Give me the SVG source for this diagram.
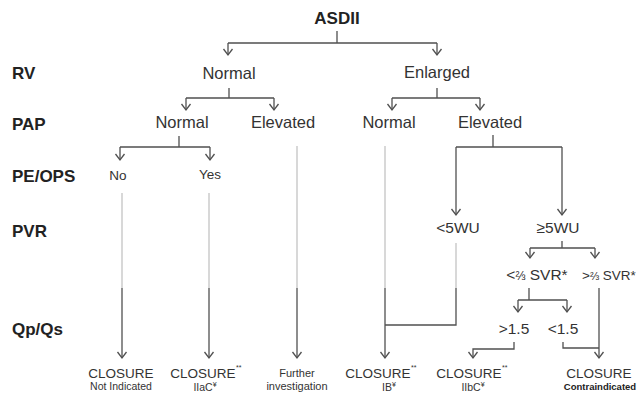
<svg xmlns="http://www.w3.org/2000/svg" width="639" height="395" viewBox="0 0 639 395">
  <style>
    text { font-family: "Liberation Sans", Arial, sans-serif; fill: #333333; }
    .hdr { font-size: 17px; font-weight: bold; fill: #222222; }
    .lvl { font-size: 16.5px; text-anchor: middle; }
    .mid { font-size: 15.5px; text-anchor: middle; }
    .yn { font-size: 13.5px; text-anchor: middle; }
    .out { font-size: 13.5px; text-anchor: middle; }
    .sub { font-size: 10.5px; text-anchor: middle; }
    .sup { font-size: 7px; }
    .frac { font-size: 12px; }
    .ln { fill: none; stroke: #505050; stroke-width: 1.3; }
    .lt { fill: none; stroke: #c4c4c4; stroke-width: 1.3; }
    .arr { marker-end: url(#chev); }
  </style>
  <defs>
    <marker id="chev" markerUnits="userSpaceOnUse" viewBox="-8 -6 10 12" markerWidth="10" markerHeight="12" refX="0" refY="0" orient="auto">
      <path d="M-6,-4.5 L0,0 L-6,4.5" fill="none" stroke="#505050" stroke-width="1.3"/>
    </marker>
  </defs>

  <!-- row headings -->
  <g id="row-labels">
    <text class="hdr" x="12" y="79">RV</text>
    <text class="hdr" x="12" y="130">PAP</text>
    <text class="hdr" x="12" y="182">PE/OPS</text>
    <text class="hdr" x="12" y="237">PVR</text>
    <text class="hdr" x="12" y="335">Qp/Qs</text>
  </g>

  <!-- nodes -->
  <g id="asdii"><text class="hdr" x="337" y="24" text-anchor="middle">ASDII</text></g>
  <g id="rv-normal"><text class="lvl" x="229" y="79">Normal</text></g>
  <g id="rv-enlarged"><text class="lvl" x="437" y="78">Enlarged</text></g>
  <g id="pap-normal-a"><text class="lvl" x="182" y="128">Normal</text></g>
  <g id="pap-elevated-a"><text class="lvl" x="283" y="128">Elevated</text></g>
  <g id="pap-normal-b"><text class="lvl" x="389" y="128">Normal</text></g>
  <g id="pap-elevated-b"><text class="lvl" x="490" y="128">Elevated</text></g>
  <g id="pe-no"><text class="yn" x="118" y="180">No</text></g>
  <g id="pe-yes"><text class="yn" x="210" y="179">Yes</text></g>
  <g id="pvr-low"><text class="mid" x="458" y="233">&lt;5WU</text></g>
  <g id="pvr-high"><text class="mid" x="558" y="233">≥5WU</text></g>
  <g id="svr-low"><text class="mid" x="537" y="280">&lt;<tspan class="frac">⅔</tspan> SVR*</text></g>
  <g id="svr-high"><text class="mid" x="582" y="280" style="text-anchor:start;font-size:13.5px">&gt;<tspan style="font-size:11px">⅔</tspan> SVR*</text></g>
  <g id="qpqs-high"><text class="mid" x="514" y="334">&gt;1.5</text></g>
  <g id="qpqs-low"><text class="mid" x="563" y="334">&lt;1.5</text></g>

  <g id="out-not-indicated">
    <text class="out" x="121" y="378">CLOSURE</text>
    <text class="sub" x="121" y="390">Not Indicated</text>
  </g>
  <g id="out-iiac">
    <text class="out" x="203" y="378">CLOSURE</text>
    <text class="sup" x="236" y="370">**</text>
    <text class="sub" x="205" y="391">IIaC<tspan class="sup" dy="-4">¥</tspan></text>
  </g>
  <g id="out-further">
    <text class="sub" x="297" y="377" style="font-size:11px">Further</text>
    <text class="sub" x="297" y="390" style="font-size:11px">investigation</text>
  </g>
  <g id="out-ib">
    <text class="out" x="378" y="378">CLOSURE</text>
    <text class="sup" x="411" y="370">**</text>
    <text class="sub" x="389" y="391">IB<tspan class="sup" dy="-4">¥</tspan></text>
  </g>
  <g id="out-iibc">
    <text class="out" x="469" y="378">CLOSURE</text>
    <text class="sup" x="502" y="370">**</text>
    <text class="sub" x="473" y="391">IIbC<tspan class="sup" dy="-4">¥</tspan></text>
  </g>
  <g id="out-contraindicated">
    <text class="out" x="599" y="378">CLOSURE</text>
    <text class="sub" x="600" y="390" style="font-size:9.5px;font-weight:bold;fill:#222222">Contraindicated</text>
  </g>

  <!-- connectors -->
  <g id="connectors">
    <!-- ASDII split -->
    <path class="ln" d="M337,31 V43 M228,43 H437"/>
    <path class="ln arr" d="M228,43 V55"/>
    <path class="ln arr" d="M437,43 V55"/>
    <!-- RV normal split -->
    <path class="ln" d="M229,88 V98 M186,98 H274"/>
    <path class="ln arr" d="M186,98 V110"/>
    <path class="ln arr" d="M274,98 V110"/>
    <!-- RV enlarged split -->
    <path class="ln" d="M437,88 V98 M392,98 H480"/>
    <path class="ln arr" d="M392,98 V110"/>
    <path class="ln arr" d="M480,98 V110"/>
    <!-- PAP normal split -->
    <path class="ln" d="M179,136 V147 M120,147 H210"/>
    <path class="ln arr" d="M120,147 V160"/>
    <path class="ln arr" d="M210,147 V160"/>
    <!-- PAP elevated (enlarged RV) split -->
    <path class="ln" d="M493,135 V147 M456,147 H562"/>
    <path class="ln arr" d="M456,147 V215"/>
    <path class="ln arr" d="M562,147 V215"/>
    <!-- long drops: light upper run, dark lower run -->
    <path class="lt" d="M122,193 V288 M209,193 V288 M297,146 V288 M385,146 V288 M456,243 V288"/>
    <path class="ln arr" d="M122,288 V358"/>
    <path class="ln arr" d="M209,288 V358"/>
    <path class="ln arr" d="M297,288 V358"/>
    <path class="ln arr" d="M385,288 V358"/>
    <path class="ln" d="M456,288 V325 H385"/>
    <!-- >=5WU split -->
    <path class="ln" d="M562,241 V248 M530,248 H595"/>
    <path class="ln arr" d="M530,248 V258"/>
    <path class="ln arr" d="M595,248 V258"/>
    <!-- <2/3 SVR split -->
    <path class="ln" d="M529,288 V300 M518,300 H567"/>
    <path class="ln arr" d="M518,300 V312"/>
    <path class="ln arr" d="M567,300 V312"/>
    <!-- >1.5 to IIbC -->
    <path class="ln arr" d="M514,342 V349 H473 V358"/>
    <!-- <1.5 joins >2/3 SVR -->
    <path class="ln" d="M563,342 V348 H599"/>
    <path class="ln arr" d="M599,288 V358"/>
  </g>
</svg>
